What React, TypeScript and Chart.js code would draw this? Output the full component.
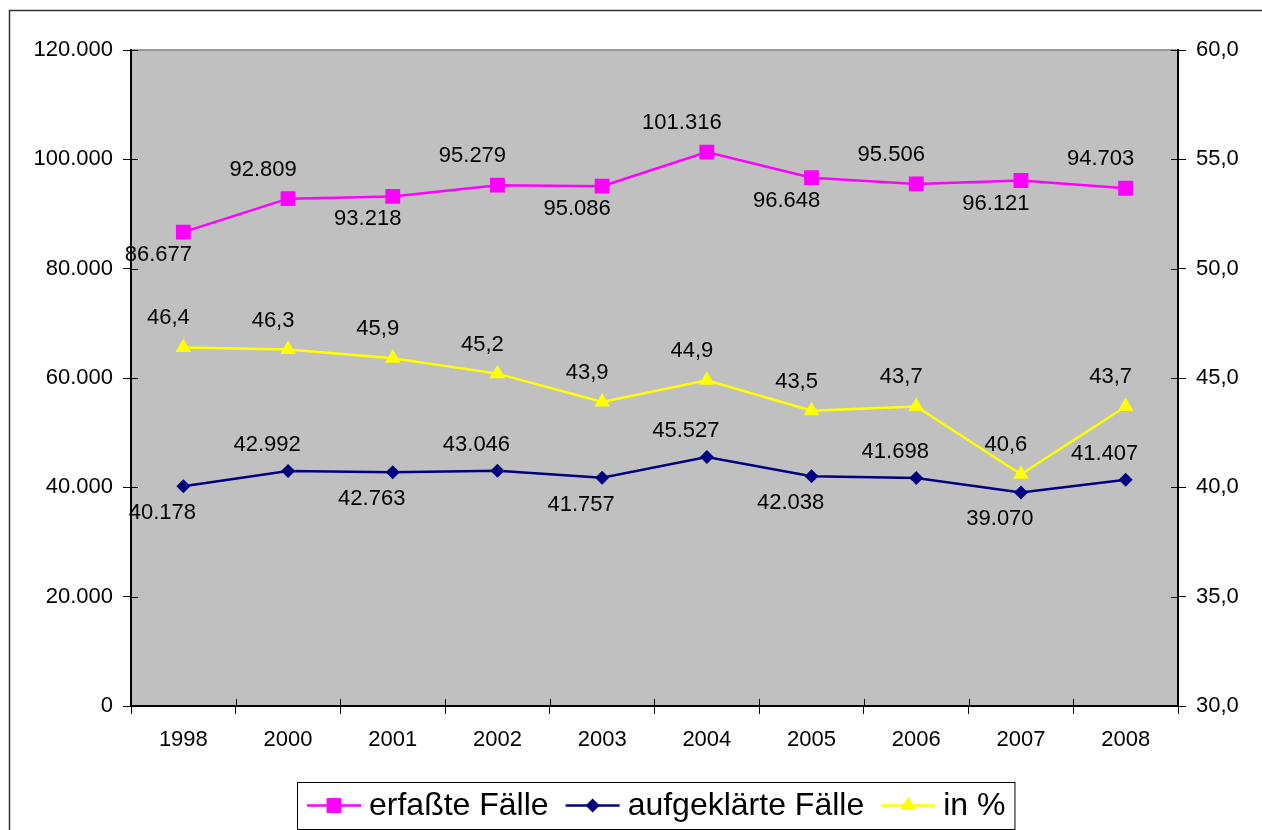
import React, { useEffect, useRef } from 'react';
import { Chart, registerables } from 'chart.js';

Chart.register(...registerables);

// ---------- data ----------
const years = ['1998', '2000', '2001', '2002', '2003', '2004', '2005', '2006', '2007', '2008'];
const erfassteFaelle = [86677, 92809, 93218, 95279, 95086, 101316, 96648, 95506, 96121, 94703];
const aufgeklaerteFaelle = [40178, 42992, 42763, 43046, 41757, 45527, 42038, 41698, 39070, 41407];
const aufklaerungsquote = [46.4, 46.3, 45.9, 45.2, 43.9, 44.9, 43.5, 43.7, 40.6, 43.7];
const seriesNames = ['erfaßte Fälle', 'aufgeklärte Fälle', 'in %'];
const leftAxisRange = [0, 120000, 20000];
const rightAxisRange = [30, 60, 5];

// ---------- styles ----------
const FONT = '"Liberation Sans", Arial, Helvetica, sans-serif';
const PINK = '#FF00FF';
const NAVY = '#000080';
const YELLOW = '#FFFF00';

const seriesStyle = [
  { color: PINK, pointStyle: 'rect', radius: 10.5 },
  { color: NAVY, pointStyle: 'rectRot', radius: 7 },
  { color: YELLOW, pointStyle: 'triangle', radius: 9 },
];

// label placement rules per series (offset from the point)
const labelRule = [
  { dx: -25, above: -29, below: 23, alternate: true },
  { dx: -21, above: -26, below: 27, alternate: true },
  { dx: -15, above: -29, below: -29, alternate: false },
];

function fmtThousands(v: number): string {
  const s = Math.round(v).toString();
  return s.replace(/\B(?=(\d{3})+(?!\d))/g, '.');
}
function fmtPct(v: number): string {
  return Number(v).toFixed(1).replace('.', ',');
}

function drawMarker(ctx: CanvasRenderingContext2D, style: string, x: number, y: number, r: number, color: string) {
  ctx.save();
  ctx.fillStyle = color;
  ctx.beginPath();
  if (style === 'rect') {
    const h = Math.SQRT1_2 * r;
    ctx.rect(x - h, y - h, 2 * h, 2 * h);
  } else if (style === 'rectRot') {
    ctx.moveTo(x - r, y);
    ctx.lineTo(x, y - r);
    ctx.lineTo(x + r, y);
    ctx.lineTo(x, y + r);
    ctx.closePath();
  } else {
    const a = (2 * Math.PI) / 3;
    ctx.moveTo(x, y - r);
    ctx.lineTo(x + Math.sin(a) * r, y - Math.cos(a) * r);
    ctx.lineTo(x + Math.sin(2 * a) * r, y - Math.cos(2 * a) * r);
    ctx.closePath();
  }
  ctx.fill();
  ctx.restore();
}

const backgroundPlugin = {
  id: 'backgroundPlugin',
  beforeDraw(chart: any) {
    const { ctx, chartArea: a } = chart;
    ctx.save();
    ctx.fillStyle = '#FFFFFF';
    ctx.fillRect(0, 0, chart.width, chart.height);
    // outer frame (right/bottom edges lie outside the picture)
    ctx.strokeStyle = '#333333';
    ctx.lineWidth = 1.5;
    ctx.strokeRect(9.5, 10.5, chart.width + 40, chart.height + 40);
    // plot area
    ctx.fillStyle = '#C0C0C0';
    ctx.fillRect(a.left, a.top, a.right - a.left, a.bottom - a.top);
    ctx.strokeStyle = '#808080';
    ctx.lineWidth = 1.5;
    ctx.beginPath();
    ctx.moveTo(a.left, a.top);
    ctx.lineTo(a.right, a.top);
    ctx.stroke();
    ctx.restore();
  },
};

const innerTickPlugin = {
  id: 'innerTickPlugin',
  beforeDatasetsDraw(chart: any) {
    const { ctx, chartArea: a, scales } = chart;
    ctx.save();
    ctx.strokeStyle = '#000000';
    ctx.lineWidth = 1;
    ctx.beginPath();
    const y = scales.y;
    y.ticks.forEach((_t: any, i: number) => {
      const py = Math.round(y.getPixelForTick(i)) + 0.5;
      ctx.moveTo(a.left, py);
      ctx.lineTo(a.left + 7, py);
    });
    const y1 = scales.y1;
    y1.ticks.forEach((_t: any, i: number) => {
      const py = Math.round(y1.getPixelForTick(i)) + 0.5;
      ctx.moveTo(a.right - 7, py);
      ctx.lineTo(a.right, py);
    });
    const x = scales.x;
    const n = years.length;
    const step = x.getPixelForValue(1) - x.getPixelForValue(0);
    for (let i = 0; i <= n; i++) {
      const px = Math.round(x.getPixelForValue(0) - step / 2 + i * step) + 0.5;
      ctx.moveTo(px, a.bottom - 7);
      ctx.lineTo(px, a.bottom);
    }
    ctx.stroke();
    ctx.restore();
  },
};

const dataLabelPlugin = {
  id: 'dataLabelPlugin',
  afterDatasetsDraw(chart: any) {
    const { ctx } = chart;
    ctx.save();
    ctx.font = `22px ${FONT}`;
    ctx.fillStyle = '#000000';
    ctx.textAlign = 'center';
    ctx.textBaseline = 'middle';
    chart.data.datasets.forEach((ds: any, di: number) => {
      const meta = chart.getDatasetMeta(di);
      const rule = labelRule[di];
      meta.data.forEach((el: any, i: number) => {
        const v = ds.data[i];
        const text = di === 2 ? fmtPct(v) : fmtThousands(v);
        const above = !rule.alternate || i % 2 === 1;
        ctx.fillText(text, el.x + rule.dx, el.y + (above ? rule.above : rule.below));
      });
    });
    ctx.restore();
  },
};

const legendPlugin = {
  id: 'legendPlugin',
  afterDraw(chart: any) {
    const { ctx } = chart;
    ctx.save();
    ctx.font = `32px ${FONT}`;
    ctx.textBaseline = 'middle';
    ctx.textAlign = 'left';
    const boxLeft = 297;
    const boxTop = 782;
    const boxH = 47;
    const cy = boxTop + boxH / 2;
    let x = boxLeft + 10;
    seriesNames.forEach((name, i) => {
      const st = seriesStyle[i];
      ctx.strokeStyle = st.color;
      ctx.lineWidth = 2.5;
      ctx.beginPath();
      ctx.moveTo(x, cy);
      ctx.lineTo(x + 54, cy);
      ctx.stroke();
      drawMarker(ctx, st.pointStyle, x + 27, cy, st.radius, st.color);
      ctx.fillStyle = '#000000';
      ctx.fillText(name, x + 62, cy + 1);
      const w = ctx.measureText(name).width;
      x += 62 + w + 17;
    });
    const boxRight = x - 17 + 9;
    ctx.strokeStyle = '#000000';
    ctx.lineWidth = 1;
    ctx.strokeRect(boxLeft + 0.5, boxTop + 0.5, boxRight - boxLeft, boxH);
    ctx.restore();
  },
};

export default function App() {
  const canvasRef = useRef<HTMLCanvasElement>(null);

  useEffect(() => {
    const canvas = canvasRef.current;
    if (!canvas) return;
    const tickFont = { family: FONT, size: 22 };
    const seriesData = [erfassteFaelle, aufgeklaerteFaelle, aufklaerungsquote];
    const axisIds = ['y', 'y', 'y1'];
    const chart = new Chart(canvas, {
      type: 'line',
      data: {
        labels: years,
        datasets: seriesNames.map((name, i) => ({
          label: name,
          data: seriesData[i],
          yAxisID: axisIds[i],
          borderColor: seriesStyle[i].color,
          backgroundColor: seriesStyle[i].color,
          borderWidth: 2.5,
          pointStyle: seriesStyle[i].pointStyle as any,
          pointRadius: seriesStyle[i].radius,
          pointHoverRadius: seriesStyle[i].radius,
          pointBorderWidth: 0,
          pointBackgroundColor: seriesStyle[i].color,
          pointBorderColor: seriesStyle[i].color,
          tension: 0,
          fill: false,
        })),
      },
      options: {
        responsive: false,
        animation: false,
        devicePixelRatio: 1,
        layout: { padding: { top: 50, left: 0, right: 0, bottom: 0 } },
        plugins: {
          legend: { display: false },
          tooltip: { enabled: false },
          title: { display: false },
        },
        scales: {
          x: {
            type: 'category',
            offset: true,
            grid: { offset: true, drawOnChartArea: false, tickLength: 8, color: '#000000', lineWidth: 1 },
            border: { color: '#000000', width: 2 },
            ticks: { color: '#000000', font: tickFont, padding: 13, maxRotation: 0, autoSkip: false },
            afterFit(scale: any) {
              scale.height = 124;
            },
          },
          y: {
            position: 'left',
            min: leftAxisRange[0],
            max: leftAxisRange[1],
            ticks: {
              stepSize: leftAxisRange[2],
              color: '#000000',
              font: tickFont,
              padding: 10,
              callback: (v: any) => fmtThousands(Number(v)),
            },
            grid: { drawOnChartArea: false, tickLength: 8, color: '#000000', lineWidth: 1 },
            border: { color: '#000000', width: 2 },
            afterFit(scale: any) {
              scale.width = 131;
            },
          },
          y1: {
            position: 'right',
            min: rightAxisRange[0],
            max: rightAxisRange[1],
            ticks: {
              stepSize: rightAxisRange[2],
              color: '#000000',
              font: tickFont,
              padding: 10,
              callback: (v: any) => fmtPct(Number(v)),
            },
            grid: { drawOnChartArea: false, tickLength: 8, color: '#000000', lineWidth: 1 },
            border: { color: '#000000', width: 2 },
            afterFit(scale: any) {
              scale.width = 84;
            },
          },
        },
      },
      plugins: [backgroundPlugin, innerTickPlugin, dataLabelPlugin, legendPlugin],
    } as any);
    return () => chart.destroy();
  }, []);

  return (
    <div style={{ position: 'absolute', left: 0, top: 0, width: 1262, height: 830, overflow: 'hidden' }}>
      <canvas ref={canvasRef} width={1262} height={830} style={{ display: 'block', width: 1262, height: 830 }} />
    </div>
  );
}
